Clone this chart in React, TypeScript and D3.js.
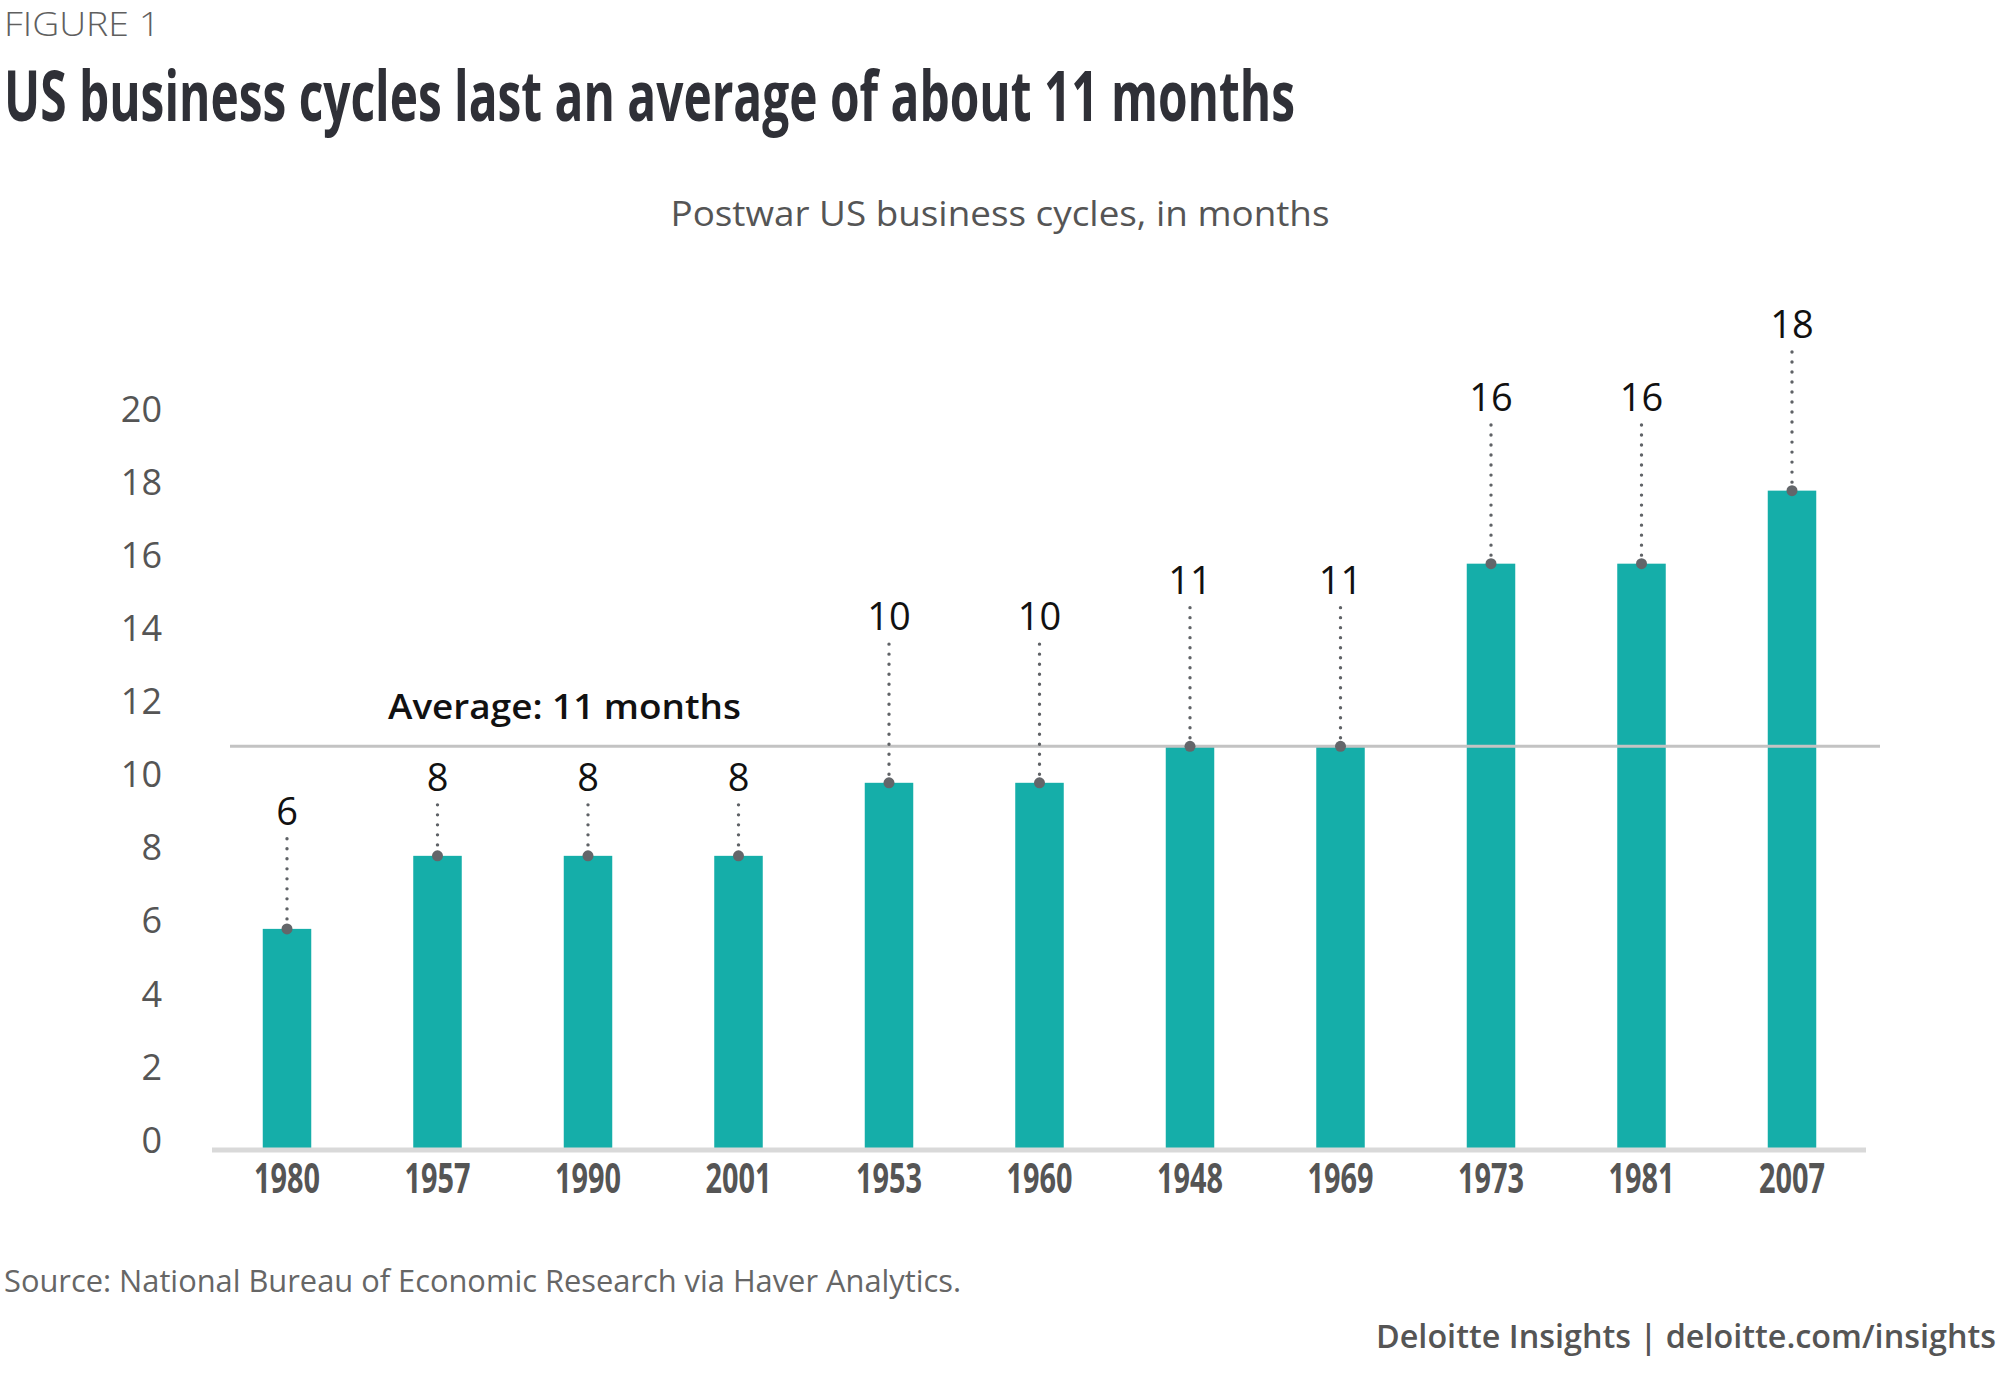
import React from "react";
import * as d3 from "d3";

const cycles = ["1980", "1957", "1990", "2001", "1953", "1960", "1948", "1969", "1973", "1981", "2007"];
const months = [6, 8, 8, 8, 10, 10, 11, 11, 16, 16, 18];
const labelLift = [2.85, 1.78, 1.78, 1.78, 4.18, 4.18, 4.18, 4.18, 4.18, 4.18, 4.18];
const yTicks = [0, 2, 4, 6, 8, 10, 12, 14, 16, 18, 20];
const averageMonths = 11;

const W = 2000;
const H = 1375;
const FONT = "'Open Sans', 'Noto Sans', sans-serif";
const TEAL = "#15aea9";

export default function App() {
  const x = d3.scalePoint<string>().domain(cycles).range([287, 1792]);
  const y = d3.scaleLinear().domain([0, 20]).range([1148, 417.6]);
  const barW = 48.5;

  return (
    <div style={{ position: "absolute", left: 0, top: 0 }}>
      <svg width={W} height={H} viewBox={`0 0 ${W} ${H}`} style={{ display: "block", background: "#fff" }}>
        <text x={4} y={36} fontFamily={FONT} fontSize={33} fontWeight={300} fill="#5f5f5f"
          textLength={156} lengthAdjust="spacingAndGlyphs">FIGURE 1</text>
        <text x={4} y={121} fontFamily={FONT} fontSize={69} fontWeight={700} fill="#2f3037"
          textLength={1291} lengthAdjust="spacingAndGlyphs">US business cycles last an average of about 11 months</text>
        <text x={1000} y={226} textAnchor="middle" fontFamily={FONT} fontSize={34} fill="#555"
          textLength={659} lengthAdjust="spacingAndGlyphs">Postwar US business cycles, in months</text>

        {/* y tick labels */}
        {yTicks.map((t) => (
          <text key={t} x={162} y={y(t) - 8} dy="0.35em" textAnchor="end" fontFamily={FONT}
            fontSize={36} fill="#555">{t}</text>
        ))}

        {/* bars */}
        {cycles.map((c, i) => (
          <rect key={c} x={(x(c) as number) - barW / 2} y={y(months[i])} width={barW}
            height={y(0) - y(months[i])} fill={TEAL} />
        ))}

        {/* average line */}
        <line x1={230} x2={1880} y1={y(averageMonths)} y2={y(averageMonths)} stroke="#c3c3c3" strokeWidth={3} />
        <text x={388} y={719} fontFamily={FONT} fontSize={35} fontWeight={600} fill="#111"
          textLength={353} lengthAdjust="spacingAndGlyphs">Average: {averageMonths} months</text>

        {/* x axis line */}
        <line x1={212} x2={1866} y1={y(0) + 2} y2={y(0) + 2} stroke="#d9d9d9" strokeWidth={5} />

        {/* dotted leaders, dots, value labels */}
        {cycles.map((c, i) => {
          const cx = x(c) as number;
          const top = y(months[i]);
          const base = y(months[i] + labelLift[i]);
          return (
            <g key={"l" + c}>
              <line x1={cx} x2={cx} y1={base + 14} y2={top} stroke="#5f6266" strokeWidth={3.4}
                strokeLinecap="round" strokeDasharray="0.01 10" />
              <circle cx={cx} cy={top} r={5.5} fill="#63666a" />
              <text x={cx} y={base} textAnchor="middle" fontFamily={FONT} fontSize={38} fill="#111">{months[i]}</text>
            </g>
          );
        })}

        {/* x labels */}
        {cycles.map((c) => (
          <text key={"x" + c} x={x(c) as number} y={1193} textAnchor="middle" fontFamily={FONT}
            fontSize={41} fontWeight={700} fill="#555" textLength={66} lengthAdjust="spacingAndGlyphs">{c}</text>
        ))}

        <text x={4} y={1292} fontFamily={FONT} fontSize={31} fill="#666"
          textLength={957} lengthAdjust="spacingAndGlyphs">Source: National Bureau of Economic Research via Haver Analytics.</text>
        <text x={1996} y={1348} textAnchor="end" fontFamily={FONT} fontSize={32.5} fontWeight={600} fill="#555"
          textLength={620} lengthAdjust="spacingAndGlyphs">Deloitte Insights | deloitte.com/insights</text>
      </svg>
    </div>
  );
}
